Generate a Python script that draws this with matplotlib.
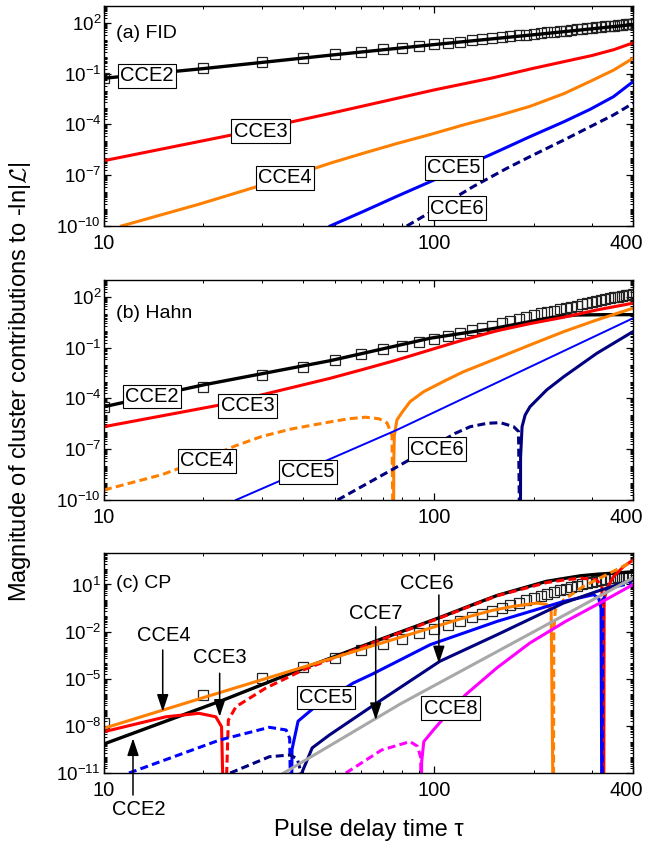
import numpy as np
import matplotlib.pyplot as plt
from matplotlib.ticker import FixedLocator, FixedFormatter, LogLocator, NullFormatter
from matplotlib.transforms import ScaledTranslation

plt.rcParams['font.family'] = ['Liberation Sans', 'DejaVu Sans']
plt.rcParams['mathtext.fontset'] = 'custom'
plt.rcParams['mathtext.rm'] = 'Liberation Sans'
plt.rcParams['mathtext.it'] = 'Liberation Sans:italic'
plt.rcParams['mathtext.cal'] = 'cmsy10'

# tau grid of the exact result (squares), same in all panels
tau_sq = [10, 20, 30, 40, 50, 60, 70, 80, 90, 100, 110, 120, 130, 140, 150, 160, 170, 180, 190, 200,
          210, 220, 230, 240, 250, 260, 270, 280, 290, 300, 310, 320, 330, 340, 350, 360, 370, 380, 390, 400]

# all values below are log10 of the magnitude
# (a) FID
fid_sq = [-1.27, -0.68, -0.33, -0.05, 0.15, 0.30, 0.44, 0.54, 0.64, 0.74, 0.82, 0.90, 0.97, 1.04, 1.10, 1.15,
          1.21, 1.26, 1.31, 1.36, 1.40, 1.44, 1.48, 1.52, 1.55, 1.59, 1.62, 1.65, 1.68, 1.71, 1.74, 1.77,
          1.79, 1.82, 1.84, 1.87, 1.89, 1.91, 1.93, 1.95]
fid_cce2_tau = [10, 20, 50, 100, 200, 300, 400]
fid_cce2 = [-1.27, -0.70, 0.12, 0.72, 1.30, 1.65, 1.90]
fid_cce3_tau = [10, 24.4, 48.4, 100, 150, 200, 300, 350, 400]
fid_cce3 = [-6.14, -4.62, -3.35, -1.96, -1.25, -0.68, 0.07, 0.42, 0.82]
fid_cce4_tau = [11.3, 19.5, 35.6, 48.4, 61, 77, 97, 123, 155, 195, 247, 297, 350, 400]
fid_cce4 = [-10, -8.7, -7.15, -6.29, -5.7, -5.13, -4.6, -4.02, -3.5, -2.93, -2.18, -1.45, -0.78, -0.09]
fid_cce5_tau = [48.4, 61, 77, 97.3, 122.7, 155, 195, 247, 297, 349, 400]
fid_cce5 = [-10, -9.14, -8.25, -7.38, -6.5, -5.61, -4.72, -3.84, -3.1, -2.36, -1.47]
fid_cce6_tau = [82.6, 104, 131, 166, 195, 247, 297, 349, 400]
fid_cce6 = [-10, -8.86, -7.68, -6.59, -5.9, -4.92, -4.13, -3.44, -2.75]

# (b) Hahn
hahn_sq = [-4.49, -3.30, -2.61, -2.12, -1.72, -1.36, -1.09, -0.88, -0.64, -0.47, -0.29, -0.12, 0.04, 0.18,
           0.30, 0.44, 0.56, 0.68, 0.80, 0.91, 1.02, 1.10, 1.18, 1.26, 1.34, 1.41, 1.49, 1.56, 1.63, 1.69,
           1.75, 1.81, 1.87, 1.92, 1.97, 2.02, 2.06, 2.10, 2.13, 2.16]
hahn_cce2_tau = [10, 20, 48.4, 97.3, 150, 195, 230, 270, 330, 400]
hahn_cce2 = [-4.49, -3.2, -1.77, -0.44, 0.12, 0.54, 0.8, 0.93, 0.95, 0.95]
hahn_cce3_tau = [10, 22.4, 48.4, 61, 77, 97.3, 122.7, 155, 195, 247, 311, 400]
hahn_cce3 = [-5.67, -4.39, -2.81, -2.28, -1.73, -1.13, -0.54, 0.0, 0.42, 0.8, 1.23, 1.63]
hahn_cce4n_tau = [10, 15, 20, 25, 30, 37, 48, 55, 62, 68, 72, 74.5, 75.3]
hahn_cce4n = [-9.41, -8.5, -7.6, -6.8, -6.25, -5.8, -5.4, -5.2, -5.11, -5.2, -5.45, -6.2, -15]
hahn_cce4p_tau = [75.3, 75.4, 75.7, 77.1, 80.2, 84.5, 92.9, 108.9, 122.7, 155, 195, 247, 311, 400]
hahn_cce4p = [-15, -8.0, -6.2, -5.27, -4.78, -4.19, -3.6, -2.91, -2.42, -1.63, -0.84, -0.05, 0.64, 1.33]
hahn_cce5_tau = [25.1, 77.1, 400]
hahn_cce5 = [-10, -5.86, 0.74]
hahn_cce6n_tau = [51, 77.4, 115.8, 128.5, 144.6, 158.5, 174, 180, 182.2]
hahn_cce6n = [-10, -8.03, -6.06, -5.67, -5.47, -5.43, -5.67, -5.95, -15]
hahn_cce6p_tau = [182.4, 182.6, 184.5, 188.5, 195, 219, 247, 311, 400]
hahn_cce6p = [-15, -7.5, -5.67, -4.98, -4.49, -3.5, -2.71, -1.33, -0.05]

# (c) CP
cp_sq = [-7.84, -6.04, -4.97, -4.23, -3.65, -3.2, -2.76, -2.45, -2.1, -1.82, -1.56, -1.32, -1.1, -0.9, -0.7,
         -0.5, -0.33, -0.17, -0.02, 0.12, 0.26, 0.39, 0.5, 0.62, 0.73, 0.83, 0.92, 1.0, 1.08, 1.16, 1.23,
         1.29, 1.34, 1.38, 1.42, 1.45, 1.48, 1.5, 1.52, 1.54]
cp_cce2_tau = [10, 23, 40, 65, 104, 138, 155, 219, 277, 311, 400]
cp_cce2 = [-9.15, -6.35, -4.35, -2.68, -1.1, -0.1, 0.3, 1.2, 1.55, 1.65, 1.8]
cp_cce3a_tau = [10, 15.4, 19.4, 21.8, 22.7, 23.1]
cp_cce3a = [-8.37, -7.42, -7.2, -7.42, -8.05, -15]
cp_cce3b_tau = [23.2, 23.8, 25.1, 30.8, 40, 65, 104, 155, 219, 250, 280, 310, 322, 325]
cp_cce3b = [-15, -7.63, -6.78, -5.61, -4.45, -2.72, -1.13, 0.28, 1.12, 1.3, 1.4, 1.3, 0.9, -15]
cp_cce3c_tau = [326, 327, 333, 349, 375, 400]
cp_cce3c = [-15, 0.0, 0.7, 1.5, 2.15, 2.55]
cp_cce4a_tau = [10, 20, 40, 70, 100, 123, 150, 174, 205, 219, 226, 229.5]
cp_cce4a = [-8.15, -6.2, -4.27, -2.7, -1.7, -1.13, -0.65, -0.39, -0.18, -0.28, -0.6, -15]
cp_cce4b_tau = [229.6, 230.2, 232.6, 247, 283, 349, 400]
cp_cce4b = [-15, -2.0, -0.6, 0.03, 0.88, 1.84, 2.47]
cp_cce5a_tau = [11.9, 22.4, 31.7, 35.6, 36.5, 36.9]
cp_cce5a = [-11, -8.9, -8.09, -8.26, -8.8, -15]
cp_cce5b_tau = [36.9, 37.1, 38.7, 43.5, 56.9, 65, 97.3, 155, 246.6, 304, 315, 320, 322]
cp_cce5b = [-15, -9.5, -7.7, -6.8, -5.27, -4.7, -2.83, -1.35, -0.08, 0.35, 0.1, -0.5, -15]
cp_cce5c_tau = [322.2, 324, 335, 360, 390, 400]
cp_cce5c = [-15, 0.0, 0.6, 0.9, 1.05, 0.9]
cp_cce6a_tau = [24.1, 31.7, 36.6, 38.5, 39.3, 39.5]
cp_cce6a = [-11, -9.96, -9.85, -10.1, -10.8, -15]
cp_cce6b_tau = [39.5, 39.7, 42.7, 48, 65.3, 104, 155, 246.6, 311, 400]
cp_cce6b = [-15, -11, -9.4, -8.6, -6.7, -3.89, -2.2, -0.18, 0.56, 1.3]
cp_cce7_tau = [35, 79, 400]
cp_cce7 = [-11, -6.6, 1.41]
cp_cce8a_tau = [54, 69.2, 84.5, 89, 91, 91.4]
cp_cce8a = [-11, -9.54, -9.0, -9.3, -10, -15]
cp_cce8b_tau = [91.4, 91.6, 93, 100, 110, 124.7, 155, 195, 250, 311, 400]
cp_cce8b = [-15, -10.3, -9.0, -8.2, -7.2, -6.0, -4.3, -2.72, -1.35, -0.28, 0.99]

x_major = [10, 100, 400]
x_labels = ['10', '100', '400']
x_minor = [20, 30, 40, 50, 60, 70, 80, 90, 200, 300]
y_major_ab = [1e-10, 1e-7, 1e-4, 1e-1, 1e2]
y_major_c = [1e-11, 1e-8, 1e-5, 1e-2, 1e1]

BLACK = 'k'
RED = '#ff0000'
ORANGE = '#ff8000'
BLUE = '#0000ff'
NAVY = '#000080'
GRAY = '#a8a8a8'
MAGENTA = '#ff00ff'
DASH = (0, (2.6, 1.4))


def curve(ax, tau, e, color, dashed=False, lw=2.2):
    ax.plot(tau, 10.0 ** np.asarray(e), color=color, lw=lw,
            ls=DASH if dashed else '-', zorder=2)


def squares(ax, e):
    ax.plot(tau_sq, 10.0 ** np.asarray(e), ls='none', marker='s', ms=7.2,
            mfc='none', mec='#222222', mew=0.9, zorder=1.8)


def setup(ax, ylo, yhi, yticks):
    ax.set_xscale('log')
    ax.set_yscale('log')
    ax.set_xlim(10, 400)
    ax.set_ylim(ylo, yhi)
    ax.xaxis.set_major_locator(FixedLocator(x_major))
    ax.xaxis.set_major_formatter(FixedFormatter(x_labels))
    ax.xaxis.set_minor_locator(FixedLocator(x_minor))
    ax.xaxis.set_minor_formatter(NullFormatter())
    ax.yaxis.set_major_locator(FixedLocator(yticks))
    ax.yaxis.set_minor_locator(LogLocator(base=10, subs=np.arange(1, 10), numticks=200))
    ax.yaxis.set_minor_formatter(NullFormatter())
    ax.tick_params(which='both', direction='in', top=True, right=True)
    ax.tick_params(which='major', length=5, width=0.9)
    ax.tick_params(which='minor', length=2.5, width=0.7)
    ax.tick_params(axis='x', labelsize=14.5, pad=6)
    ax.tick_params(axis='y', labelsize=13.5, pad=2)
    for s in ax.spines.values():
        s.set_linewidth(1.0)
    # keep "400" inside the figure, as in the original
    lbl = ax.get_xticklabels()[-1]
    lbl.set_transform(lbl.get_transform() + ScaledTranslation(-5 / 72, 0, fig.dpi_scale_trans))


def box(ax, x, y, s):
    ax.text(x, y, s, transform=ax.transAxes, ha='center', va='center', fontsize=14.5, zorder=5,
            bbox=dict(boxstyle='square,pad=0.12', fc='white', ec='k', lw=0.8))


def arrow(ax, x, e_tail, e_tip):
    ax.annotate('', xy=(x, 10.0 ** e_tip), xytext=(x, 10.0 ** e_tail),
                arrowprops=dict(arrowstyle='-|>,head_length=0.75,head_width=0.25', color='k',
                                lw=1.1, mutation_scale=14, shrinkA=0, shrinkB=0),
                annotation_clip=False, zorder=5)


fig = plt.figure(figsize=(6.48, 8.42), dpi=100)
L, W, H = 0.1605, 0.8164, 0.2613
ax_a = fig.add_axes([L, 0.7316, W, H])
ax_b = fig.add_axes([L, 0.4062, W, H])
ax_c = fig.add_axes([L, 0.0819, W, H])

# (a) FID
setup(ax_a, 1e-10, 1e3, y_major_ab)
squares(ax_a, fid_sq)
curve(ax_a, fid_cce2_tau, fid_cce2, BLACK, lw=2.4)
curve(ax_a, fid_cce3_tau, fid_cce3, RED)
curve(ax_a, fid_cce4_tau, fid_cce4, ORANGE)
curve(ax_a, fid_cce5_tau, fid_cce5, BLUE)
curve(ax_a, fid_cce6_tau, fid_cce6, NAVY, dashed=True)
ax_a.text(0.023, 0.873, '(a) FID', transform=ax_a.transAxes, ha='left', va='center', fontsize=14)
box(ax_a, 0.081, 0.682, 'CCE2')
box(ax_a, 0.296, 0.431, 'CCE3')
box(ax_a, 0.3425, 0.22, 'CCE4')
box(ax_a, 0.662, 0.265, 'CCE5')
box(ax_a, 0.667, 0.08, 'CCE6')

# (b) Hahn
setup(ax_b, 1e-10, 1e3, y_major_ab)
squares(ax_b, hahn_sq)
curve(ax_b, hahn_cce2_tau, hahn_cce2, BLACK, lw=2.4)
curve(ax_b, hahn_cce3_tau, hahn_cce3, RED)
curve(ax_b, hahn_cce4n_tau, hahn_cce4n, ORANGE, dashed=True)
curve(ax_b, hahn_cce4p_tau, hahn_cce4p, ORANGE)
curve(ax_b, hahn_cce5_tau, hahn_cce5, BLUE, lw=1.4)
curve(ax_b, hahn_cce6n_tau, hahn_cce6n, NAVY, dashed=True)
curve(ax_b, hahn_cce6p_tau, hahn_cce6p, NAVY)
ax_b.text(0.023, 0.849, '(b) Hahn', transform=ax_b.transAxes, ha='left', va='center', fontsize=14)
box(ax_b, 0.0905, 0.47, 'CCE2')
box(ax_b, 0.271, 0.428, 'CCE3')
box(ax_b, 0.195, 0.178, 'CCE4')
box(ax_b, 0.385, 0.129, 'CCE5')
box(ax_b, 0.629, 0.231, 'CCE6')

# (c) CP
setup(ax_c, 1e-11, 1e3, y_major_c)
squares(ax_c, cp_sq)
curve(ax_c, cp_cce2_tau, cp_cce2, BLACK, lw=2.4)
curve(ax_c, cp_cce3a_tau, cp_cce3a, RED)
curve(ax_c, cp_cce3b_tau, cp_cce3b, RED, dashed=True)
curve(ax_c, cp_cce3c_tau, cp_cce3c, RED)
curve(ax_c, cp_cce4a_tau, cp_cce4a, ORANGE)
curve(ax_c, cp_cce4b_tau, cp_cce4b, ORANGE, dashed=True)
curve(ax_c, cp_cce5a_tau, cp_cce5a, BLUE, dashed=True)
curve(ax_c, cp_cce5b_tau, cp_cce5b, BLUE)
curve(ax_c, cp_cce5c_tau, cp_cce5c, BLUE, dashed=True)
curve(ax_c, cp_cce6a_tau, cp_cce6a, NAVY, dashed=True)
curve(ax_c, cp_cce6b_tau, cp_cce6b, NAVY)
curve(ax_c, cp_cce7_tau, cp_cce7, GRAY)
curve(ax_c, cp_cce8a_tau, cp_cce8a, MAGENTA, dashed=True)
curve(ax_c, cp_cce8b_tau, cp_cce8b, MAGENTA)
ax_c.text(0.023, 0.862, '(c) CP', transform=ax_c.transAxes, ha='left', va='center', fontsize=14)
for x, y, s in [(0.113, 0.627, 'CCE4'), (0.219, 0.526, 'CCE3'), (0.066, -0.164, 'CCE2'),
                (0.611, 0.862, 'CCE6'), (0.513, 0.726, 'CCE7')]:
    ax_c.text(x, y, s, transform=ax_c.transAxes, ha='center', va='center', fontsize=14.5, zorder=5)
box(ax_c, 0.42, 0.343, 'CCE5')
box(ax_c, 0.655, 0.294, 'CCE8')
arrow(ax_c, 15.06, -3.17, -7.1)
arrow(ax_c, 22.4, -4.65, -7.42)
arrow(ax_c, 12.24, -12.4, -8.79)
arrow(ax_c, 103.3, 0.33, -4.02)
arrow(ax_c, 66.5, -1.69, -7.63)

fig.text(0.031, 0.547, r'Magnitude of cluster contributions to -ln|$\mathcal{L}$|',
         rotation=90, ha='center', va='center', fontsize=17)
fig.text(0.569, 0.0075, 'Pulse delay time τ', ha='center', va='baseline', fontsize=17)

fig.savefig('out.png', dpi=100)
